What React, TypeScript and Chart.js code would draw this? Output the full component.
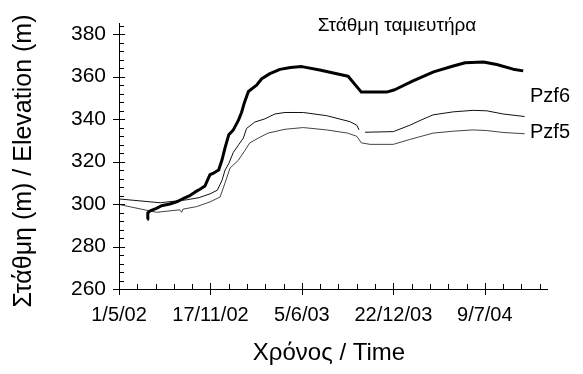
import React, { useEffect, useRef } from "react";
import { Chart, registerables } from "chart.js";

Chart.register(...registerables);

// ---- Axis definitions (days since 1/5/02) ----
const xMin = 0;
const xMax = 936;
const xMajorStep = 200;
const xMinorStep = 40;
const xTickLabels = ["1/5/02", "17/11/02", "5/6/03", "22/12/03", "9/7/04"];

const yMin = 260;
const yMax = 385;
const yMajorStep = 20;
const yMinorStep = 4;

const yTitle = "Στάθμη (m) / Elevation (m)";
const xTitle = "Χρόνος / Time";
const reservoirLabel = "Στάθμη ταμιευτήρα";
const pzf6Label = "Pzf6";
const pzf5Label = "Pzf5";

// ---- Series (day since 1/5/02, elevation m) ----
const reservoirDays = [62, 63, 68, 82, 93, 111, 126, 140, 155, 166, 177, 188, 195, 199, 207, 218, 225, 232, 240, 250, 261, 268, 274, 283, 301, 312, 330, 352, 375, 400, 439, 501, 530, 585, 603, 643, 688, 731, 757, 797, 826, 862, 884];
const reservoirLevels = [292.8, 295.8, 296.8, 298, 299.2, 300, 301, 302.5, 304, 305.6, 307, 308.5, 312, 313.8, 314.6, 316, 320.6, 326.6, 332.6, 334.9, 339.4, 343.1, 347.6, 353, 356, 359, 361.4, 363.4, 364.3, 364.7, 363.1, 360.2, 352.7, 352.7, 353.8, 358, 362.2, 365, 366.5, 366.9, 365.7, 363.5, 362.7];

const pzf6Days = [0, 90, 148, 175, 199, 215, 225, 232, 240, 250, 262, 272, 279, 297, 319, 341, 363, 403, 454, 505, 520, 525, 531, 538, 600, 636, 658, 687, 731, 774, 804, 840, 887];
const pzf6Levels = [302.4, 300.6, 302, 303, 304.8, 306.5, 311, 316, 319, 324.3, 328, 331.1, 335.6, 338.6, 340.1, 342.4, 343.1, 343.1, 341.6, 338.8, 337.1, 334.9, null, 333.8, 334.1, 337.1, 339.3, 342, 343.4, 344.1, 343.9, 342.4, 341.2];

const pzf5Days = [0, 82, 133, 137, 140, 170, 199, 221, 232, 243, 261, 275, 286, 305, 326, 363, 403, 454, 500, 520, 530, 549, 600, 636, 658, 687, 731, 774, 804, 840, 887];
const pzf5Levels = [299.8, 296.1, 297.3, 296.1, 297.6, 298.8, 301, 303.3, 310, 317, 320.6, 325.1, 328.8, 331.1, 333.4, 335.2, 336, 334.9, 333.4, 331.9, 328.8, 328.1, 328.1, 330.4, 331.7, 333.4, 334.3, 334.9, 334.6, 333.7, 333.1];

const toPoints = (xs: number[], ys: (number | null)[]) => xs.map((x, i) => ({ x, y: ys[i] }));

const FONT = "'Liberation Sans', Arial, sans-serif";

const decorPlugin = {
  id: "decor",
  afterDraw(chart: any) {
    const { ctx, chartArea: a, scales } = chart;
    const xs = scales.x;
    const ys = scales.y;
    ctx.save();
    ctx.strokeStyle = "#000";
    ctx.lineWidth = 1;
    ctx.beginPath();
    for (let d = xMin; d <= xMax; d += xMinorStep) {
      const px = Math.round(xs.getPixelForValue(d)) + 0.5;
      const major = d % xMajorStep === 0;
      ctx.moveTo(px, a.bottom - (major ? 6 : 5));
      ctx.lineTo(px, a.bottom + (major ? 6 : 0));
    }
    for (let v = yMin; v <= yMax; v += yMinorStep) {
      const py = Math.round(ys.getPixelForValue(v)) + 0.5;
      const major = (v - yMin) % yMajorStep === 0;
      ctx.moveTo(a.left - (major ? 6 : 0), py);
      ctx.lineTo(a.left + (major ? 6 : 5), py);
    }
    ctx.stroke();

    ctx.fillStyle = "#000";
    ctx.textBaseline = "alphabetic";
    ctx.font = `19px ${FONT}`;
    ctx.textAlign = "center";
    ctx.fillText(reservoirLabel, 397, 31);
    ctx.textAlign = "left";
    ctx.font = `20px ${FONT}`;
    ctx.fillText(pzf6Label, 530, 102);
    ctx.fillText(pzf5Label, 530, 138);

    ctx.font = `24px ${FONT}`;
    ctx.textAlign = "center";
    ctx.fillText(xTitle, 329, 360);

    ctx.save();
    ctx.translate(31, 161);
    ctx.rotate(-Math.PI / 2);
    ctx.font = `25px ${FONT}`;
    ctx.fillText(yTitle, 0, 0);
    ctx.restore();
    ctx.restore();
  },
};

export default function App() {
  const ref = useRef<HTMLCanvasElement | null>(null);
  useEffect(() => {
    if (!ref.current) return;
    const chart = new Chart(ref.current, {
      type: "line",
      data: {
        datasets: [
          {
            label: reservoirLabel,
            data: toPoints(reservoirDays, reservoirLevels),
            borderColor: "#000",
            borderWidth: 3,
            pointRadius: 0,
            tension: 0,
            borderJoinStyle: "round",
          },
          {
            label: pzf6Label,
            data: toPoints(pzf6Days, pzf6Levels),
            borderColor: "#111",
            borderWidth: 1,
            pointRadius: 0,
            tension: 0,
            spanGaps: false,
          },
          {
            label: pzf5Label,
            data: toPoints(pzf5Days, pzf5Levels),
            borderColor: "#444",
            borderWidth: 1,
            pointRadius: 0,
            tension: 0,
          },
        ],
      },
      options: {
        animation: false,
        responsive: true,
        maintainAspectRatio: false,
        layout: { padding: { top: 12, right: 36, left: 0, bottom: 0 } },
        plugins: { legend: { display: false }, tooltip: { enabled: false } },
        scales: {
          x: {
            type: "linear",
            min: xMin,
            max: xMax,
            grid: { display: false, drawTicks: false },
            border: { display: true, color: "#000", width: 1 },
            afterFit: (s: any) => {
              s.height = 85;
            },
            ticks: {
              stepSize: xMajorStep,
              includeBounds: false,
              autoSkip: false,
              maxRotation: 0,
              padding: 16,
              color: "#000",
              font: { family: FONT, size: 20, lineHeight: 1 },
              callback: (v: any) => {
                const i = Math.round(Number(v) / xMajorStep);
                return Number(v) % xMajorStep === 0 ? xTickLabels[i] ?? "" : "";
              },
            },
          },
          y: {
            type: "linear",
            min: yMin,
            max: yMax,
            grid: { display: false, drawTicks: false },
            border: { display: true, color: "#000", width: 1 },
            afterFit: (s: any) => {
              s.width = 119;
            },
            ticks: {
              stepSize: yMajorStep,
              includeBounds: false,
              padding: 13,
              color: "#000",
              font: { family: FONT, size: 21, lineHeight: 1 },
            },
          },
        },
      },
      plugins: [decorPlugin],
    });
    return () => chart.destroy();
  }, []);
  return (
    <div style={{ position: "fixed", left: 0, top: 0, width: 583, height: 374, background: "#fff" }}>
      <canvas ref={ref} />
    </div>
  );
}
